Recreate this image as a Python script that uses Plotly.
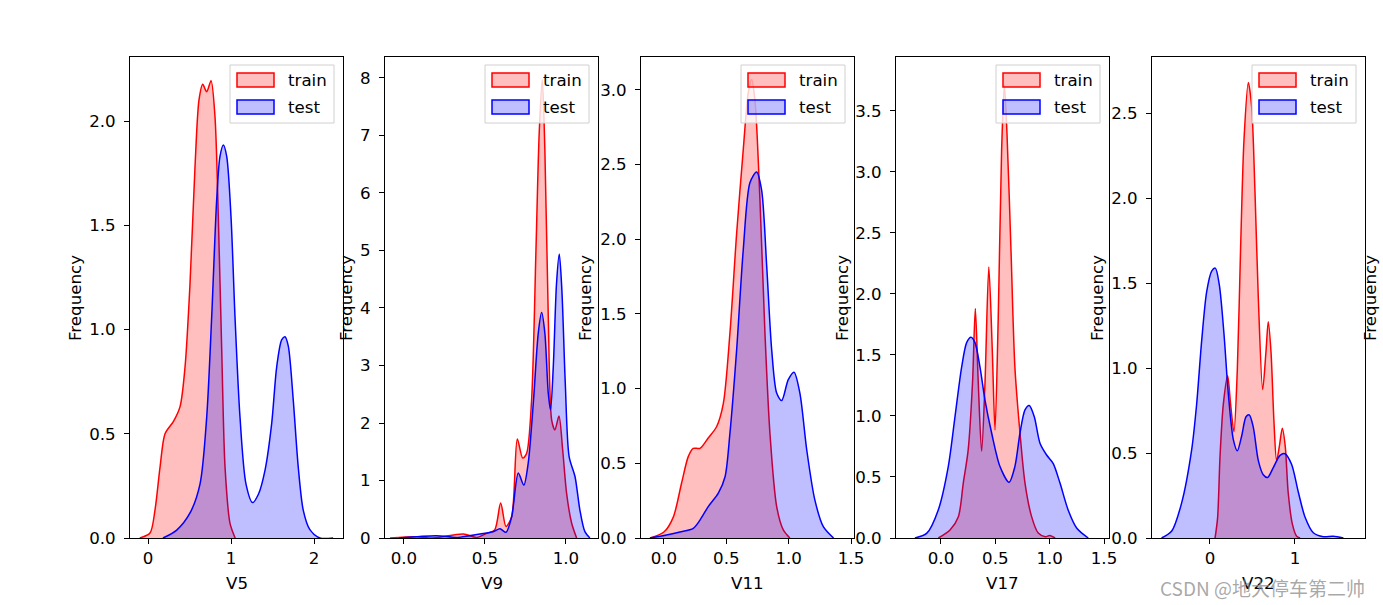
import plotly.graph_objects as go

# ------------------------------------------
# KDE curves (x, density)
# ------------------------------------------

V5_TRAIN_X = [-0.1, 0.024, 0.084, 0.145, 0.205, 0.305, 0.386, 0.446, 0.506, 0.566, 0.614, 0.659,
              0.707, 0.759, 0.807, 0.847, 0.888, 0.928, 0.988, 1.05]
V5_TRAIN_Y = [0.0, 0.024, 0.134, 0.34, 0.50, 0.558, 0.63, 0.82, 1.22, 1.78, 2.10, 2.176,
              2.14, 2.193, 2.02, 1.54, 0.90, 0.34, 0.07, 0.0]
V5_TEST_X = [0.18, 0.346, 0.506, 0.627, 0.707, 0.767, 0.827, 0.867, 0.908, 0.948, 1.0, 1.048,
             1.108, 1.18, 1.26, 1.33, 1.41, 1.49, 1.55, 1.61, 1.65, 1.69, 1.75, 1.81, 1.87,
             1.95, 2.07, 2.23]
V5_TEST_Y = [0.0, 0.038, 0.12, 0.26, 0.58, 1.06, 1.62, 1.83, 1.885, 1.83, 1.54, 1.06,
             0.58, 0.26, 0.17, 0.21, 0.326, 0.55, 0.82, 0.95, 0.965, 0.92, 0.66, 0.34, 0.134,
             0.04, 0.0, 0.0]

V9_TRAIN_X = [-0.086, 0.078, 0.18, 0.366, 0.45, 0.51, 0.56, 0.597, 0.63, 0.665, 0.70, 0.733,
              0.757, 0.788, 0.815, 0.835, 0.854, 0.870, 0.891, 0.912, 0.932, 0.957, 0.98,
              1.004, 1.035, 1.066]
V9_TRAIN_Y = [0.0, 0.02, 0.0, 0.07, 0.01, 0.08, 0.14, 0.61, 0.2, 0.37, 1.72, 1.39,
              1.47, 2.40, 5.0, 7.04, 7.97, 6.75, 3.85, 2.05, 1.88, 2.12, 1.53,
              0.78, 0.26, 0.0]
V9_TEST_X = [-0.03, 0.2, 0.33, 0.47, 0.55, 0.593, 0.63, 0.665, 0.706, 0.74, 0.767, 0.80,
             0.829, 0.850, 0.870, 0.891, 0.905, 0.922, 0.942, 0.959, 0.975, 0.996, 1.02,
             1.056, 1.086, 1.117, 1.148]
V9_TEST_Y = [0.0, 0.04, 0.01, 0.07, 0.11, 0.16, 0.10, 0.37, 1.13, 0.92, 1.30, 2.40,
             3.56, 3.92, 3.56, 2.52, 2.23, 2.98, 4.43, 4.94, 4.31, 2.69, 1.41,
             1.07, 0.49, 0.11, 0.0]

V11_TRAIN_X = [-0.112, 0.0, 0.075, 0.142, 0.195, 0.235, 0.289, 0.355, 0.422, 0.476, 0.529,
               0.583, 0.636, 0.676, 0.703, 0.73, 0.77, 0.81, 0.85, 0.904, 0.957, 1.01]
V11_TRAIN_Y = [0.0, 0.04, 0.14, 0.37, 0.545, 0.60, 0.60, 0.67, 0.745, 0.90, 1.37,
               2.04, 2.60, 2.98, 3.07, 2.93, 2.26, 1.37, 0.70, 0.21, 0.054, 0.0]
V11_TEST_X = [-0.112, 0.02, 0.128, 0.235, 0.289, 0.355, 0.436, 0.49, 0.529, 0.583, 0.636,
              0.69, 0.743, 0.783, 0.824, 0.864, 0.904, 0.944, 0.997, 1.043, 1.09, 1.145,
              1.21, 1.278, 1.36]
V11_TEST_Y = [0.0, 0.02, 0.04, 0.065, 0.12, 0.21, 0.30, 0.41, 0.70, 1.26, 1.93,
              2.38, 2.45, 2.33, 1.82, 1.26, 0.97, 0.92, 1.06, 1.11, 0.97, 0.59,
              0.255, 0.076, 0.0]

V17_TRAIN_X = [-0.025, 0.083, 0.16, 0.205, 0.25, 0.29, 0.316, 0.343, 0.374, 0.405, 0.44,
               0.472, 0.497, 0.527, 0.558, 0.583, 0.607, 0.644, 0.68, 0.727, 0.773, 0.834,
               0.895, 0.96, 1.0, 1.05]
V17_TRAIN_Y = [0.0, 0.066, 0.175, 0.45, 0.72, 1.27, 1.88, 1.27, 0.71, 1.27, 2.22,
               1.54, 0.885, 1.81, 3.18, 3.71, 3.32, 2.36, 1.40, 0.86, 0.45, 0.175,
               0.04, 0.01, 0.02, 0.0]
V17_TEST_X = [-0.24, -0.13, -0.025, 0.067, 0.129, 0.19, 0.236, 0.276, 0.313, 0.359, 0.405,
              0.466, 0.543, 0.626, 0.68, 0.727, 0.773, 0.812, 0.858, 0.911, 0.972, 1.033,
              1.095, 1.17, 1.25, 1.355]
V17_TEST_Y = [0.0, 0.04, 0.23, 0.585, 0.995, 1.40, 1.60, 1.645, 1.60, 1.40, 1.13,
              0.86, 0.585, 0.456, 0.585, 0.86, 1.05, 1.085, 0.995, 0.776, 0.68, 0.61,
              0.45, 0.23, 0.08, 0.0]

V22_TRAIN_X = [0.06, 0.09, 0.118, 0.157, 0.208, 0.243, 0.282, 0.322, 0.361, 0.40, 0.451,
               0.49, 0.53, 0.569, 0.62, 0.659, 0.686, 0.718, 0.753, 0.784, 0.816, 0.851,
               0.886, 0.92, 0.969, 1.02, 1.06]
V22_TRAIN_Y = [0.0, 0.12, 0.476, 0.786, 0.955, 0.786, 0.625, 0.993, 1.716, 2.34, 2.68,
               2.54, 2.03, 1.41, 0.873, 1.096, 1.272, 1.096, 0.682, 0.455, 0.538, 0.645,
               0.538, 0.269, 0.083, 0.01, 0.0]
V22_TEST_X = [-0.57, -0.45, -0.333, -0.216, -0.157, -0.098, -0.039, 0.02, 0.063, 0.11, 0.165,
              0.216, 0.275, 0.322, 0.373, 0.424, 0.463, 0.51, 0.569, 0.627, 0.678, 0.745,
              0.824, 0.882, 0.96, 1.04, 1.118, 1.216, 1.333, 1.45, 1.57]
V22_TEST_Y = [0.0, 0.041, 0.207, 0.517, 0.786, 1.158, 1.448, 1.57, 1.588, 1.489, 1.20,
              0.848, 0.579, 0.513, 0.60, 0.713, 0.724, 0.651, 0.455, 0.372, 0.356, 0.414,
              0.486, 0.496, 0.434, 0.269, 0.124, 0.031, 0.008, 0.01, 0.0]

COLUMNS = ["V5", "V9", "V11", "V17", "V22"]
SERIES = ["train", "test"]
TRAIN = [(V5_TRAIN_X, V5_TRAIN_Y), (V9_TRAIN_X, V9_TRAIN_Y), (V11_TRAIN_X, V11_TRAIN_Y),
         (V17_TRAIN_X, V17_TRAIN_Y), (V22_TRAIN_X, V22_TRAIN_Y)]
TEST = [(V5_TEST_X, V5_TEST_Y), (V9_TEST_X, V9_TEST_Y), (V11_TEST_X, V11_TEST_Y),
        (V17_TEST_X, V17_TEST_Y), (V22_TEST_X, V22_TEST_Y)]

# axis ranges / ticks per panel
X_RANGES = [[-0.217, 2.349], [-0.117, 1.198], [-0.184, 1.524], [-0.414, 1.546], [-0.682, 1.824]]
Y_RANGES = [[0, 2.307], [0, 8.365], [0, 3.22], [0, 3.94], [0, 2.83]]
X_DTICK = [1, 0.5, 0.5, 0.5, 1]
X_FMT = ["d", ".1f", ".1f", ".1f", "d"]
Y_DTICK = [0.5, 1, 0.5, 0.5, 0.5]
Y_FMT = [".1f", "d", ".1f", ".1f", ".1f"]


# ------------------------------------------
# Layout (pixel geometry of the matplotlib figure)
# ------------------------------------------

W, H = 1383, 605
AX_LEFT = [130, 385, 641, 896, 1152]
AX_W = 213
AX_TOP, AX_BOTTOM = 57, 538
YLABEL_X = [75, 346, 585, 842, 1097, 1370]
FONT = "DejaVu Sans"
FS = 16.67
LINE_COLORS = ["red", "blue"]
FILL_COLORS = ["rgba(255,0,0,0.25)", "rgba(0,0,255,0.25)"]


def px(x):
    return x / W


def py(y):
    return 1 - y / H


fig = go.Figure()

for i, col in enumerate(COLUMNS):
    n = "" if i == 0 else str(i + 1)

    for k, (xs, ys) in enumerate([TRAIN[i], TEST[i]]):
        fig.add_trace(go.Scatter(
            x=xs, y=ys,
            mode="lines", name=SERIES[k], showlegend=False,
            line=dict(color=LINE_COLORS[k], width=1.5, shape="spline", smoothing=0.8),
            fill="tozeroy", fillcolor=FILL_COLORS[k],
            xaxis="x" + n, yaxis="y" + n
        ))

    axis_common = dict(
        showline=True, mirror=True, linecolor="black", linewidth=1,
        ticks="outside", ticklen=5, tickwidth=1, tickcolor="black",
        showgrid=False, zeroline=False, automargin=False,
        tickfont=dict(family=FONT, size=FS, color="black"),
    )
    fig.layout["xaxis" + n] = dict(
        axis_common,
        domain=[px(AX_LEFT[i]), px(AX_LEFT[i] + AX_W)],
        range=X_RANGES[i], dtick=X_DTICK[i], tick0=0, tickformat=X_FMT[i],
        anchor="y" + n,
    )
    fig.layout["yaxis" + n] = dict(
        axis_common,
        domain=[py(AX_BOTTOM), py(AX_TOP)],
        range=Y_RANGES[i], dtick=Y_DTICK[i], tick0=0, tickformat=Y_FMT[i],
        ticklabelstandoff=5,
        anchor="x" + n,
    )

    # legend box (matplotlib style, upper right)
    right = AX_LEFT[i] + AX_W - 9
    left = right - 104
    fig.add_shape(type="rect", xref="paper", yref="paper",
                  x0=px(left), x1=px(right), y0=py(123), y1=py(65),
                  fillcolor="rgba(255,255,255,0.8)", line=dict(color="#d0d0d0", width=1))
    for k, name in enumerate(SERIES):
        top = 73 + k * 27
        fig.add_shape(type="rect", xref="paper", yref="paper",
                      x0=px(left + 7), x1=px(left + 44), y0=py(top + 14), y1=py(top),
                      fillcolor=FILL_COLORS[k], line=dict(color=LINE_COLORS[k], width=1.5))
        fig.add_annotation(
            text=name, xref="paper", yref="paper",
            x=px(left + 56), y=py(top + 7), showarrow=False,
            font=dict(family=FONT, size=FS, color="black"),
            xanchor="left", yanchor="middle"
        )

    fig.add_annotation(
        text=col, xref="paper", yref="paper",
        x=px(AX_LEFT[i] + AX_W / 2), y=py(583),
        showarrow=False, font=dict(family=FONT, size=FS, color="black"),
        xanchor="center", yanchor="middle"
    )

for lx in YLABEL_X:
    fig.add_annotation(
        text="Frequency", xref="paper", yref="paper",
        x=px(lx), y=py(298), textangle=-90,
        showarrow=False, font=dict(family=FONT, size=FS, color="black"),
        xanchor="center", yanchor="middle"
    )

fig.add_annotation(
    text="CSDN @地大停车第二帅", xref="paper", yref="paper",
    x=px(1262), y=py(587), showarrow=False,
    font=dict(family="Noto Sans CJK SC", size=19, color="rgba(140,140,140,0.75)"),
    xanchor="center", yanchor="middle"
)

fig.update_layout(
    width=W, height=H,
    margin=dict(l=0, r=0, t=0, b=0),
    paper_bgcolor="white", plot_bgcolor="white",
    font=dict(family=FONT, size=FS, color="black"),
    showlegend=False,
)

# page body has a default 8px margin; drop it so the figure fills the window
fig.write_html("out.html", config={"displayModeBar": False},
               post_script="document.body.style.margin='0';")
